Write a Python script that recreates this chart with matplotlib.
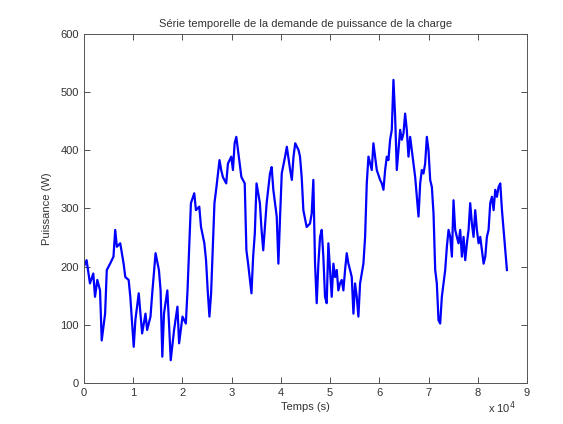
import matplotlib
matplotlib.use("Agg")
import matplotlib.pyplot as plt
from matplotlib.ticker import FuncFormatter, MultipleLocator

plt.rcParams['font.family'] = ['Liberation Sans', 'DejaVu Sans']

# Load demand time series (time in units of 1e4 s, power in W)
t_1e4 = [
    0.000, 0.055, 0.123, 0.191, 0.226, 0.273, 0.328, 0.362, 0.431, 0.465,
    0.533, 0.601, 0.636, 0.670, 0.738, 0.807, 0.841, 0.909, 0.943, 1.012,
    1.046, 1.114, 1.148, 1.183, 1.251, 1.285, 1.353, 1.388, 1.456, 1.524,
    1.558, 1.593, 1.627, 1.695, 1.729, 1.764, 1.832, 1.900, 1.934, 2.003,
    2.071, 2.105, 2.174, 2.242, 2.276, 2.344, 2.379, 2.447, 2.481, 2.515,
    2.550, 2.584, 2.652, 2.686, 2.755, 2.789, 2.823, 2.891, 2.926, 2.994,
    3.028, 3.062, 3.096, 3.131, 3.165, 3.199, 3.267, 3.301, 3.336, 3.404,
    3.438, 3.472, 3.507, 3.575, 3.609, 3.643, 3.712, 3.780, 3.814, 3.848,
    3.917, 3.951, 3.985, 4.019, 4.087, 4.122, 4.190, 4.224, 4.258, 4.293,
    4.361, 4.390, 4.424, 4.458, 4.525, 4.593, 4.627, 4.661, 4.695, 4.729,
    4.763, 4.797, 4.831, 4.864, 4.898, 4.932, 4.966, 5.000, 5.034, 5.068,
    5.102, 5.136, 5.169, 5.203, 5.237, 5.271, 5.305, 5.339, 5.373, 5.407,
    5.441, 5.475, 5.508, 5.542, 5.576, 5.610, 5.644, 5.678, 5.712, 5.746,
    5.780, 5.814, 5.847, 5.881, 5.915, 5.949, 6.017, 6.051, 6.085, 6.119,
    6.153, 6.186, 6.220, 6.254, 6.288, 6.322, 6.356, 6.390, 6.424, 6.458,
    6.492, 6.525, 6.559, 6.593, 6.627, 6.661, 6.695, 6.729, 6.763, 6.797,
    6.831, 6.864, 6.898, 6.932, 6.966, 7.000, 7.034, 7.068, 7.102, 7.136,
    7.169, 7.203, 7.237, 7.271, 7.305, 7.339, 7.373, 7.407, 7.441, 7.475,
    7.508, 7.542, 7.576, 7.610, 7.644, 7.678, 7.712, 7.746, 7.780, 7.814,
    7.847, 7.881, 7.915, 7.949, 7.983, 8.017, 8.051, 8.085, 8.119, 8.153,
    8.186, 8.220, 8.254, 8.288, 8.322, 8.356, 8.390, 8.424, 8.458, 8.492,
    8.525, 8.559, 8.593,
]

puissance = [
    200, 211, 171, 188, 148, 177, 159, 73, 119, 194,
    205, 217, 263, 234, 240, 205, 182, 177, 148, 62,
    108, 154, 119, 85, 119, 91, 114, 154, 223, 194,
    159, 45, 119, 159, 102, 39, 91, 131, 68, 114,
    102, 159, 309, 326, 297, 303, 268, 240, 211, 159,
    114, 154, 309, 332, 383, 366, 354, 343, 377, 389,
    366, 412, 423, 400, 377, 354, 343, 228, 205, 154,
    217, 257, 343, 309, 263, 228, 309, 360, 371, 332,
    286, 205, 286, 360, 389, 406, 366, 349, 389, 412,
    400, 389, 354, 297, 268, 274, 291, 349, 205, 137,
    205, 251, 263, 217, 148, 137, 240, 194, 148, 205,
    182, 194, 159, 171, 177, 159, 194, 223, 205, 194,
    182, 119, 171, 148, 114, 171, 188, 205, 251, 343,
    389, 377, 366, 412, 389, 366, 349, 343, 332, 366,
    389, 383, 418, 435, 521, 458, 366, 400, 435, 418,
    429, 463, 435, 389, 423, 400, 377, 354, 320, 286,
    343, 366, 360, 377, 423, 400, 349, 337, 291, 194,
    171, 108, 102, 148, 171, 194, 234, 263, 251, 217,
    314, 263, 251, 240, 263, 217, 251, 211, 240, 263,
    309, 274, 251, 297, 263, 240, 251, 228, 205, 217,
    251, 263, 309, 320, 297, 332, 320, 337, 343, 297,
    263, 228, 194,
]

temps = [v * 1e4 for v in t_1e4]

fig = plt.figure(figsize=(5.63, 4.24), dpi=100)
fig.patch.set_facecolor('white')
ax = fig.add_axes([0.149, 0.097, 0.787, 0.823])

ax.plot(temps, puissance, color=(0, 0, 1), linewidth=1.6)

ax.set_xlim(0, 9e4)
ax.set_ylim(0, 600)
ax.xaxis.set_major_locator(MultipleLocator(1e4))
ax.yaxis.set_major_locator(MultipleLocator(100))
ax.xaxis.set_major_formatter(FuncFormatter(lambda x, _: f"{x / 1e4:g}"))

ax.tick_params(direction='in', top=True, right=True, length=4,
               width=0.6, labelsize=8, colors='#333333')
for side in ax.spines.values():
    side.set_linewidth(0.7)
    side.set_color('#555555')

ax.set_title("Série temporelle de la demande de puissance de la charge",
             fontsize=8, color='#333333', pad=5)
ax.set_xlabel("Temps (s)", fontsize=8, color='#333333', labelpad=3)
ax.set_ylabel("Puissance (W)", fontsize=8, color='#333333', labelpad=6)

# Scale factor of the time axis, MATLAB style below the right end
ax.text(0.975, -0.072, r"x 10$^4$", transform=ax.transAxes,
        ha='right', va='center', fontsize=8, color='#333333')

fig.savefig("out.png", dpi=100)
